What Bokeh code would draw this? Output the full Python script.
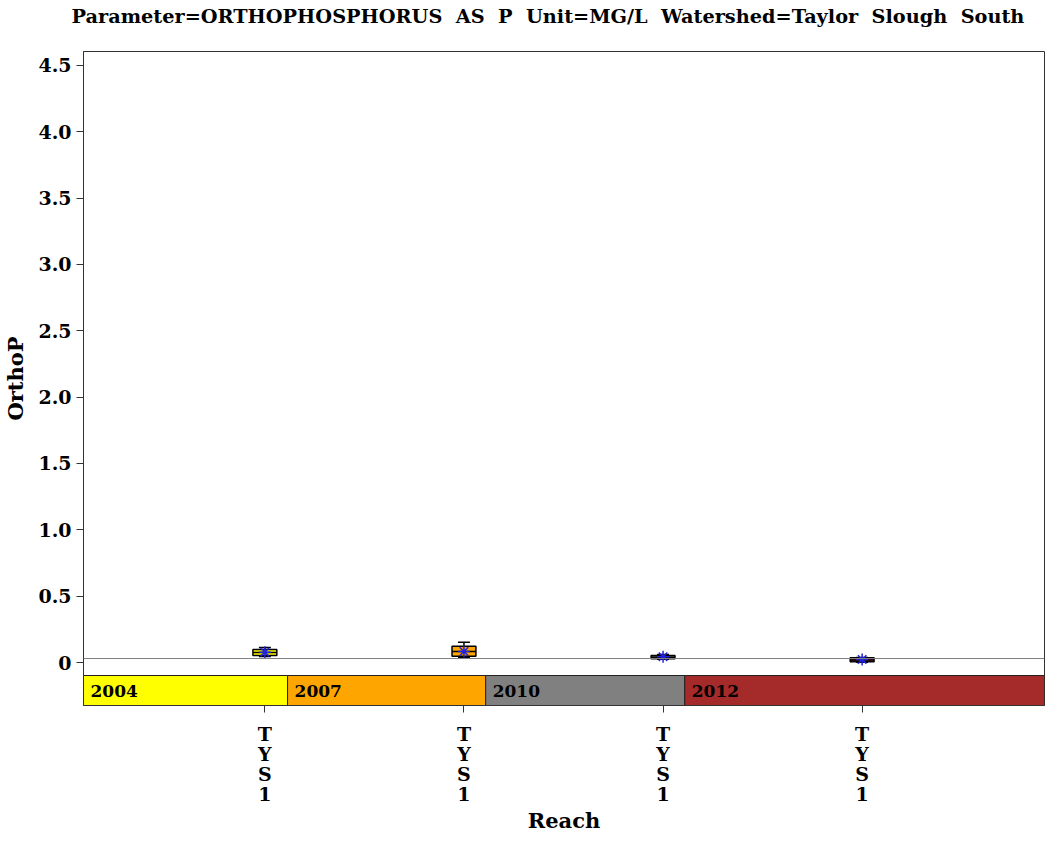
from bokeh.plotting import figure
from bokeh.models import FixedTicker, Span, ColumnDataSource, Title
from bokeh.core.properties import value
from bokeh.embed import file_html
from bokeh.resources import INLINE

# ---- data ----
years = ["2004", "2007", "2010", "2012"]
reach = ["TYS1", "TYS1", "TYS1", "TYS1"]
colors = ["#FFFF00", "#FFA500", "#808080", "#A52A2A"]
whisker_low = [0.045, 0.038, 0.025, 0.002]
q1 = [0.053, 0.047, 0.028, 0.005]
median = [0.075, 0.083, 0.040, 0.019]
q3 = [0.098, 0.123, 0.053, 0.035]
whisker_high = [0.113, 0.153, 0.060, 0.038]
mean = [0.078, 0.083, 0.043, 0.023]
ref_value = 0.03
y_ticks = [0, 0.5, 1.0, 1.5, 2.0, 2.5, 3.0, 3.5, 4.0, 4.5]
y_tick_labels = ["0", "0.5", "1.0", "1.5", "2.0", "2.5", "3.0", "3.5", "4.0", "4.5"]
title_parts = ["Parameter=ORTHOPHOSPHORUS", "AS", "P", "Unit=MG/L", "Watershed=Taylor", "Slough", "South"]

# ---- layout constants ----
FONT = "DejaVu Serif"
xpos = list(range(len(years)))
x_start, x_end = -0.911, 3.916
y_start, y_end = -0.324, 4.605
block_edges = [x_start, 0.114, 1.109, 2.109, x_end]
band_top, band_bottom = -0.098, -0.324
box_w = 0.12
cap_w = 0.06

p = figure(width=1046, height=836, output_backend="svg", toolbar_location=None,
           x_range=(x_start, x_end), y_range=(y_start, y_end),
           min_border_left=76, min_border_right=2, min_border_top=51,
           min_border_bottom=110)
p.title.text = "\u00a0 ".join(title_parts)
p.title.align = "left"
p.title.offset = -12
p.title.vertical_align = "top"
p.title.standoff = 8
p.title.text_font = FONT
p.title.text_font_style = "bold"
p.title.text_font_size = "19.3px"
p.title.text_color = "black"
# spacer between title and frame
p.add_layout(Title(text="\u00a0", text_font_size="1px", standoff=15), "above")

p.xgrid.visible = False
p.ygrid.visible = False
p.outline_line_color = "#333333"
p.background_fill_color = "white"
p.border_fill_color = "white"

# axes
p.yaxis.ticker = FixedTicker(ticks=y_ticks)
p.yaxis.major_label_overrides = {t: l for t, l in zip(y_ticks, y_tick_labels)}
p.xaxis.ticker = FixedTicker(ticks=xpos)
p.xaxis.major_label_overrides = {x: "\n".join(list(r)) for x, r in zip(xpos, reach)}
for ax in (p.xaxis, p.yaxis):
    ax.minor_tick_line_color = None
    ax.major_tick_in = 0
    ax.major_tick_out = 7
    ax.axis_line_color = "#333333"
    ax.major_tick_line_color = "#333333"
    ax.major_label_text_font = FONT
    ax.major_label_text_font_style = "bold"
    ax.major_label_text_font_size = "19px"
    ax.major_label_text_color = "black"
    ax.axis_label_text_font = FONT
    ax.axis_label_text_font_style = "bold"
    ax.axis_label_text_font_size = "21px"
    ax.axis_label_text_color = "black"
p.xaxis.major_label_text_line_height = 0.92
p.xaxis.major_label_standoff = 10
p.xaxis.axis_label_standoff = 0
p.yaxis.axis_label_standoff = 7
p.xaxis.axis_label = "Reach"
p.yaxis.axis_label = "OrthoP"

# reference line
p.add_layout(Span(location=ref_value, dimension="width", line_color="#808080", line_width=1))

# year band
band = ColumnDataSource(dict(left=block_edges[:-1], right=block_edges[1:], color=colors, year=years))
p.quad(left="left", right="right", top=band_top, bottom=band_bottom, fill_color="color",
       line_color="#222222", line_width=1, source=band)
p.text(x="left", y=(band_top + band_bottom) / 2, text="year", source=band, x_offset=7,
       text_baseline="middle", text_align="left", text_font=value(FONT),
       text_font_style="bold", text_font_size="17px", text_color="black")

# boxes
src = ColumnDataSource(dict(x=xpos, lo=whisker_low, q1=q1, med=median, q3=q3, hi=whisker_high,
                            mean=mean, color=colors,
                            l=[x - box_w / 2 for x in xpos], r=[x + box_w / 2 for x in xpos],
                            cl=[x - cap_w / 2 for x in xpos], cr=[x + cap_w / 2 for x in xpos]))
p.segment(x0="x", y0="lo", x1="x", y1="hi", line_color="black", line_width=1.5, source=src)
p.segment(x0="cl", y0="hi", x1="cr", y1="hi", line_color="black", line_width=1.5, source=src)
p.segment(x0="cl", y0="lo", x1="cr", y1="lo", line_color="black", line_width=1.5, source=src)
p.quad(left="l", right="r", bottom="q1", top="q3", fill_color="color", line_color="black",
       line_width=1.5, source=src)
p.segment(x0="l", y0="med", x1="r", y1="med", line_color="black", line_width=1.5, source=src)
p.scatter(x="x", y="mean", marker="asterisk", size=12, line_color="#2222DD", line_width=1.5, source=src)

open("out.html", "w").write(file_html(p, INLINE))
